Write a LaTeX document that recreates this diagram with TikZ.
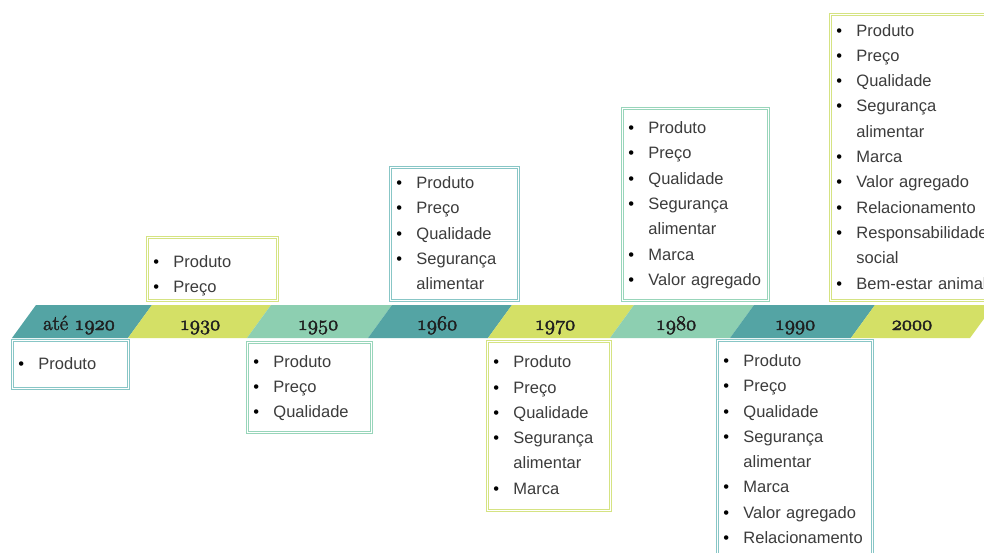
\documentclass[tikz,border=0pt]{standalone}
\usepackage{fontspec}
\newfontfamily\listfont{Liberation Sans}
\definecolor{tealC}{HTML}{54A4A4}
\definecolor{limeC}{HTML}{D4E066}
\definecolor{mintC}{HTML}{8DCFB1}
\definecolor{tealL}{HTML}{88C6C6}
\definecolor{limeL}{HTML}{D5E382}
\definecolor{mintL}{HTML}{98D5BA}
\definecolor{txtC}{HTML}{3C3C3C}
\newcommand{\yr}[1]{{\usefont{OML}{lmm}{m}{it}#1}}
\newcommand{\thick}[1]{\special{pdf:literal direct 2 Tr 0.45 w}#1\special{pdf:literal direct 0 Tr}}
\newcommand{\itm}[1]{\mbox{\strut\makebox[20pt][l]{\color{black}•}#1}}
\newcommand{\cont}[1]{\mbox{\strut\hspace*{20pt}#1}}

\begin{document}
\begin{tikzpicture}[x=1pt, y=-1pt,
  year/.style={font=\fontsize{20.5}{24}\selectfont, text=black!88, anchor=base, inner sep=0pt},
  infobox/.style={draw=#1, double=white, double distance=1.8pt, line width=0.9pt, anchor=north west,
    inner xsep=6pt, inner ysep=0pt, align=left, text=txtC, font=\listfont\fontsize{16.5}{25.3}\selectfont}]
  \clip (0,0) rectangle (984,552);
  \fill[white] (0,0) rectangle (984,552);
  % faixa da linha do tempo
  \foreach \xa/\xb/\col in {12/128/tealC, 128/247/limeC, 247/368/mintC, 368/488/tealC,
      488/610/limeC, 610/730/mintC, 730/851/tealC, 851/970/limeC}
    \fill[\col] (\xa,338) -- (\xb,338) -- (\xb+24,305) -- (\xa+24,305) -- cycle;

  % anos
  \node[year] (y1920) at (79,330) {\thick{até \yr{1920}}};
  \node[year] (y1930) at (200,330) {\thick{\yr{1930}}};
  \node[year] (y1950) at (318,330) {\thick{\yr{1950}}};
  \node[year] (y1960) at (437,330) {\thick{\yr{1960}}};
  \node[year] (y1970) at (555,330) {\thick{\yr{1970}}};
  \node[year] (y1980) at (676,330) {\thick{\yr{1980}}};
  \node[year] (y1990) at (795,330) {\thick{\yr{1990}}};
  \node[year] (y2000) at (912,330) {\thick{\yr{2000}}};

  % caixas
  \node[infobox=tealL, text width=104pt, minimum height=48pt] (b1920) at (12,340) {\itm{Produto}};
  \node[infobox=limeL, text width=118pt, minimum height=63pt] (b1930) at (147,237)
    {\rule{0pt}{29pt}\itm{Produto}\\ \itm{Preço}};
  \node[infobox=mintL, text width=112pt, minimum height=90pt] (b1950) at (247,342)
    {\itm{Produto}\\ \itm{Preço}\\ \itm{Qualidade}};
  \node[infobox=tealL, text width=116pt, minimum height=133pt] (b1960) at (390,167)
    {\itm{Produto}\\ \itm{Preço}\\ \itm{Qualidade}\\ \itm{Segurança}\\ \cont{alimentar}};
  \node[infobox=limeL, text width=111pt, minimum height=169pt] (b1970) at (487,341)
    {\itm{Produto}\\ \itm{Preço}\\ \itm{Qualidade}\\ \itm{Segurança}\\ \cont{alimentar}\\ \itm{Marca}};
  \node[infobox=mintL, text width=134pt, minimum height=192pt] (b1980) at (622,108)
    {\itm{Produto}\\ \itm{Preço}\\ \itm{Qualidade}\\ \itm{Segurança}\\ \cont{alimentar}\\ \itm{Marca}\\
     \itm{Valor agregado}};
  \node[infobox=tealL, text width=143pt, minimum height=219pt] (b1990) at (717,340)
    {\itm{Produto}\\ \itm{Preço}\\ \itm{Qualidade}\\ \itm{Segurança}\\ \cont{alimentar}\\ \itm{Marca}\\
     \itm{Valor agregado}\\ \itm{Relacionamento}};
  \node[infobox=limeL, text width=158pt, minimum height=286pt] (b2000) at (830,14)
    {\itm{Produto}\\ \itm{Preço}\\ \itm{Qualidade}\\ \itm{Segurança}\\ \cont{alimentar}\\ \itm{Marca}\\
     \itm{Valor agregado}\\ \itm{Relacionamento}\\ \itm{Responsabilidade}\\ \cont{social}\\
     \itm{Bem-estar animal}};
\end{tikzpicture}
\end{document}
